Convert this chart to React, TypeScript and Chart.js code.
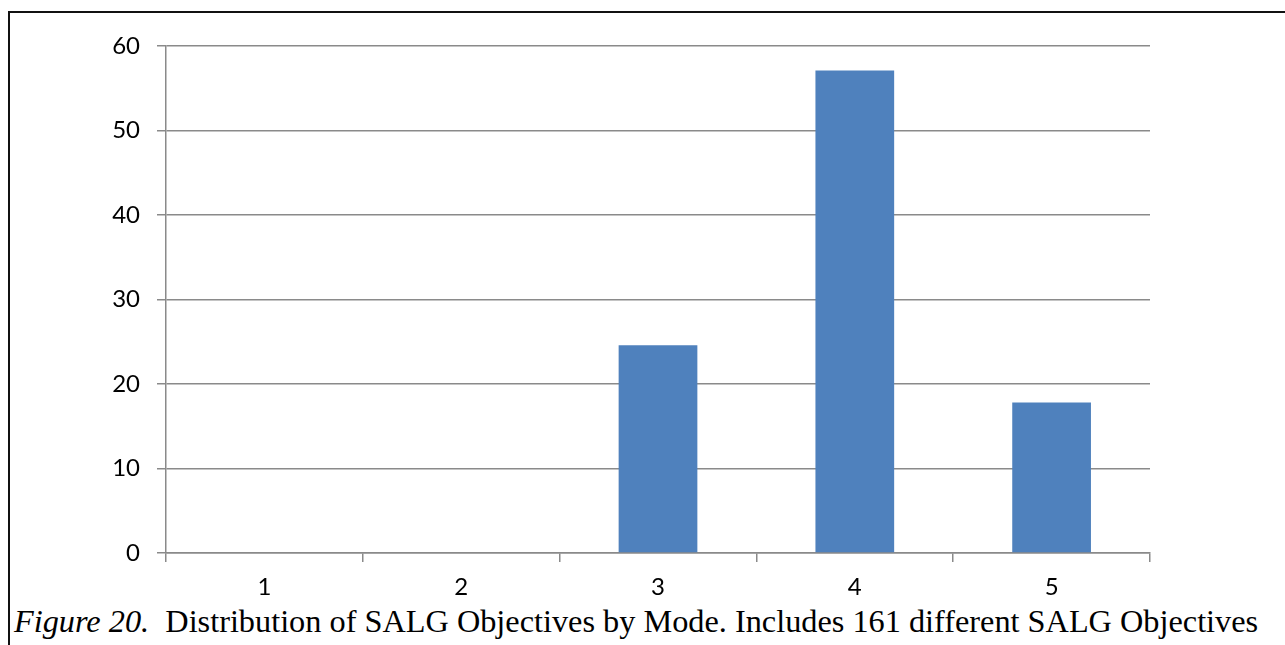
import React, { useEffect, useRef } from "react";
import { Chart, registerables } from "chart.js";

Chart.register(...registerables);

// Objectives per mode (share of the 161 SALG objectives)
const modes = ["1", "2", "3", "4", "5"];
const objectiveShare = [0, 0, 24.6, 57.1, 17.8];
const yTicks = [0, 10, 20, 30, 40, 50, 60];

const GRID = "#8a8a8a";
const BAR = "#4f81bd";
const AXIS_FONT = "Lato, 'Open Sans', sans-serif";

export default function App() {
  const canvasRef = useRef<HTMLCanvasElement | null>(null);

  useEffect(() => {
    const prevMargin = document.body.style.margin;
    document.body.style.margin = "0";
    const ctx = canvasRef.current!.getContext("2d")!;
    const chart = new Chart(ctx, {
      type: "bar",
      data: {
        labels: modes,
        datasets: [
          {
            data: objectiveShare,
            backgroundColor: BAR,
            borderWidth: 0,
            barPercentage: 0.4,
            categoryPercentage: 1,
          },
        ],
      },
      options: {
        animation: false,
        responsive: false,
        maintainAspectRatio: false,
        layout: { padding: { left: 0, right: 135, top: 46, bottom: 0 } },
        plugins: {
          legend: { display: false },
          tooltip: { enabled: false },
          title: { display: false },
        },
        scales: {
          x: {
            type: "category",
            offset: true,
            afterFit: (scale: any) => {
              scale.height = 47;
            },
            grid: {
              offset: true,
              drawOnChartArea: false,
              drawTicks: true,
              tickLength: 9,
              color: GRID,
              lineWidth: 1.5,
            },
            border: { display: true, color: GRID, width: 1.5 },
            ticks: {
              color: "#000",
              padding: 11,
              font: { family: AXIS_FONT, size: 24 },
              maxRotation: 0,
            },
          },
          y: {
            min: 0,
            max: 60,
            afterFit: (scale: any) => {
              scale.width = 166;
            },
            afterBuildTicks: (scale: any) => {
              scale.ticks = yTicks.map((v) => ({ value: v }));
            },
            grid: {
              color: GRID,
              lineWidth: 1.5,
              drawTicks: true,
              tickLength: 9,
            },
            border: { display: true, color: GRID, width: 1.5 },
            ticks: {
              color: "#000",
              padding: 17,
              font: { family: AXIS_FONT, size: 24 },
            },
          },
        },
      },
    });
    return () => {
      chart.destroy();
      document.body.style.margin = prevMargin;
    };
  }, []);

  return (
    <div
      style={{
        position: "fixed",
        left: 0,
        top: 0,
        width: 1285,
        height: 645,
        overflow: "hidden",
        background: "#fff",
      }}
    >
      <div
        style={{
          position: "absolute",
          left: 8,
          top: 11,
          width: 1400,
          height: 700,
          borderLeft: "2px solid #111",
          borderTop: "2px solid #111",
        }}
      />
      <canvas
        ref={canvasRef}
        width={1285}
        height={600}
        style={{ position: "absolute", left: 0, top: 0, width: 1285, height: 600 }}
      />
      <div
        style={{
          position: "absolute",
          left: 14,
          top: 605,
          fontFamily: "'Liberation Serif', 'Times New Roman', serif",
          fontSize: 32.3,
          color: "#000",
          whiteSpace: "pre",
          lineHeight: "32px",
        }}
      >
        <i>Figure 20.</i>
        {"  Distribution of SALG Objectives by Mode. Includes 161 different SALG Objectives"}
      </div>
    </div>
  );
}
